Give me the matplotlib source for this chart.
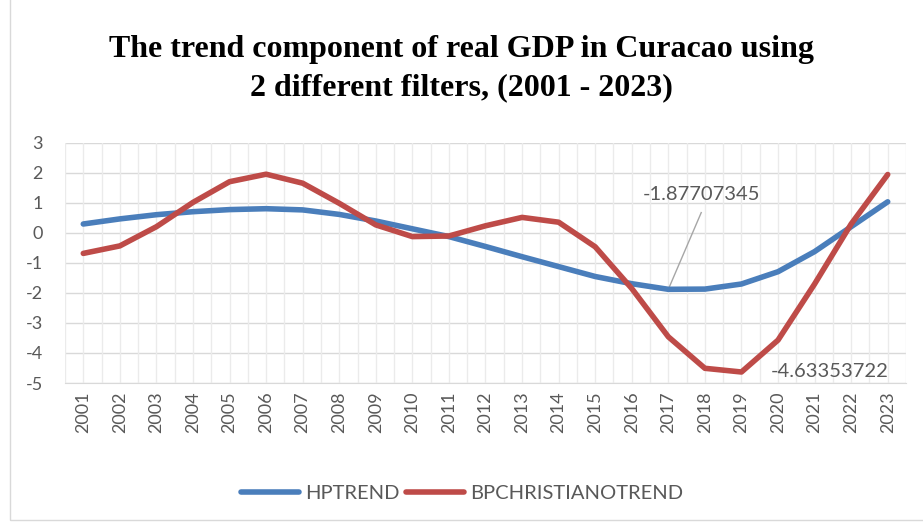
import matplotlib.pyplot as plt
from matplotlib.patches import Rectangle
import numpy as np

plt.rcParams['axes.unicode_minus'] = False

years = [str(y) for y in range(2001, 2024)]
hp_trend = [0.30, 0.47, 0.61, 0.71, 0.78, 0.81, 0.77, 0.62, 0.40, 0.14, -0.12, -0.45, -0.79,
            -1.12, -1.45, -1.69, -1.87707345, -1.87, -1.70, -1.29, -0.62, 0.21, 1.04]
bp_trend = [-0.68, -0.43, 0.21, 1.02, 1.71, 1.96, 1.66, 0.99, 0.27, -0.12, -0.10, 0.24, 0.52,
            0.36, -0.46, -1.85, -3.46, -4.51, -4.63353722, -3.57, -1.70, 0.30, 1.95]
yticks = list(range(-5, 4))

blue = '#4a7ebb'
red = '#be4b48'
grey_txt = '#595959'
ui_font = 'Lato'

fig = plt.figure(figsize=(9.23, 5.28), dpi=100)
# chart border
fig.patches.append(Rectangle((10 / 923, 8 / 528), 920 / 923, 540 / 528, transform=fig.transFigure,
                             fill=False, edgecolor='#d9d9d9', linewidth=1))

ax = fig.add_axes([65 / 923, 1 - 383 / 528, 841 / 923, 240 / 528])
x = np.arange(len(years))

# gridlines: horizontal at each integer, vertical at every half category
for v in yticks:
    ax.axhline(v, color='#d9d9d9', linewidth=1, zorder=0)
for gx in np.arange(-0.5, len(years), 0.5):
    ax.axvline(gx, color='#ebebeb', linewidth=1, zorder=0)

ax.plot(x, hp_trend, color=blue, linewidth=4, solid_capstyle='round', solid_joinstyle='round', label='HPTREND')
ax.plot(x, bp_trend, color=red, linewidth=4, solid_capstyle='round', solid_joinstyle='round', label='BPCHRISTIANOTREND')

ax.set_xlim(-0.5, len(years) - 0.5)
ax.set_ylim(-5, 3)
ax.set_yticks(yticks)
ax.set_xticks(x)
ax.set_xticklabels(years, rotation=90)
ax.tick_params(axis='both', length=0, labelsize=13, labelcolor=grey_txt, pad=6)
ax.tick_params(axis='y', pad=16)
for lbl in ax.get_xticklabels() + ax.get_yticklabels():
    lbl.set_family(ui_font)
for lbl in ax.get_yticklabels():
    lbl.set_horizontalalignment('right')
for s in ['top', 'right', 'left']:
    ax.spines[s].set_visible(False)
ax.spines['bottom'].set_color('#d9d9d9')

# data labels
ax.plot([16.9, x[16]], [0.68, hp_trend[16]], color='#a6a6a6', linewidth=1, zorder=1)
ax.text(16.9, 1.27, f'{hp_trend[16]:.8f}', fontsize=14.5, color=grey_txt, family=ui_font,
        ha='center', va='center')
ax.text(20.4, -4.62, f'{bp_trend[18]:.8f}', fontsize=14.5, color=grey_txt,
        family=ui_font, ha='center', va='center')

fig.text(0.5, 1 - 50 / 528, 'The trend component of real GDP in Curacao using',
         ha='center', va='center', fontsize=23, fontweight='bold', family='Liberation Serif')
fig.text(0.5, 1 - 88 / 528, '2 different filters, (2001 - 2023)',
         ha='center', va='center', fontsize=23, fontweight='bold', family='Liberation Serif')

fig.legend(loc='center', bbox_to_anchor=(462 / 923, 1 - 493 / 528), ncol=2, frameon=False,
           prop={'family': ui_font, 'size': 14.5}, labelcolor=grey_txt,
           handlelength=2.9, handletextpad=0.3, columnspacing=0.3)

fig.savefig('out.png', dpi=100)
